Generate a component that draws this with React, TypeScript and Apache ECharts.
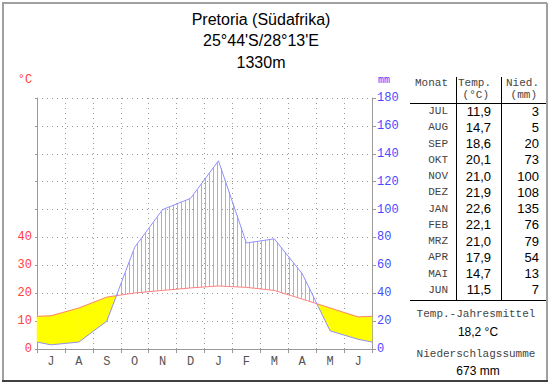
import { useEffect, useRef } from "react";
import * as echarts from "echarts";

const monthLabels = ["J", "A", "S", "O", "N", "D", "J", "F", "M", "A", "M", "J"];
const tableMonths = ["JUL", "AUG", "SEP", "OKT", "NOV", "DEZ", "JAN", "FEB", "MRZ", "APR", "MAI", "JUN"];
const temperature = [11.9, 14.7, 18.6, 20.1, 21.0, 21.9, 22.6, 22.1, 21.0, 17.9, 14.7, 11.5];
const precipitation = [3, 5, 20, 73, 100, 108, 135, 76, 79, 54, 13, 7];
const titleLines = ["Pretoria (Südafrika)", "25°44'S/28°13'E", "1330m"];

const TEMP_MAX = 90;
const PREC_MAX = 180;
const RATIO = PREC_MAX / TEMP_MAX;

const MONO = "'Liberation Mono', 'DejaVu Sans Mono', monospace";
const SANS = "'Liberation Sans', Arial, sans-serif";
const HATCH = "#a8a8ff";

const fmt1 = (v: number) => v.toFixed(1).replace(".", ",");

// points at month centres plus the two edges (mean of Jun/Jul)
const n = temperature.length;
const edgeT = (temperature[0] + temperature[n - 1]) / 2;
const edgeP = (precipitation[0] + precipitation[n - 1]) / 2;
const xs = [0, ...temperature.map((_, i) => i + 0.5), n];
const tSeries = [edgeT, ...temperature, edgeT];
const pSeries = [edgeP, ...precipitation, edgeP];
const tMm = tSeries.map((v) => v * RATIO);

function renderClimate(_params: any, api: any) {
  const kids: any[] = [];
  const originX = api.coord([0, 0])[0];
  const step = 4;
  const lerp = (a: number, b: number, f: number) => a + (b - a) * f;
  const pt = (a: number[], b: number[], f: number) => [lerp(a[0], b[0], f), lerp(a[1], b[1], f)];
  for (let i = 0; i < xs.length - 1; i++) {
    const t0 = api.coord([xs[i], tMm[i]]);
    const t1 = api.coord([xs[i + 1], tMm[i + 1]]);
    const p0 = api.coord([xs[i], pSeries[i]]);
    const p1 = api.coord([xs[i + 1], pSeries[i + 1]]);
    const d0 = pSeries[i] - tMm[i];
    const d1 = pSeries[i + 1] - tMm[i + 1];
    const cuts = [0];
    if (d0 * d1 < 0) cuts.push(d0 / (d0 - d1));
    cuts.push(1);
    for (let k = 0; k < cuts.length - 1; k++) {
      const u = cuts[k];
      const v = cuts[k + 1];
      const dm = lerp(d0, d1, (u + v) / 2);
      const tu = pt(t0, t1, u);
      const tv = pt(t0, t1, v);
      const pu = pt(p0, p1, u);
      const pv = pt(p0, p1, v);
      if (dm < 0) {
        kids.push({
          type: "polygon",
          shape: { points: [tu, tv, pv, pu] },
          style: { fill: "#ffff00", stroke: "#ffff00", lineWidth: 0.5 },
        });
      } else {
        let x = originX + Math.ceil((tu[0] - originX) / step) * step;
        for (; x < tv[0]; x += step) {
          const f = (x - tu[0]) / (tv[0] - tu[0]);
          const top = lerp(pu[1], pv[1], f);
          const bottom = lerp(tu[1], tv[1], f);
          kids.push({
            type: "rect",
            shape: { x: Math.round(x), y: top, width: 1, height: bottom - top },
            style: { fill: HATCH },
          });
        }
      }
    }
  }
  return { type: "group", children: kids };
}

export default function App() {
  const ref = useRef<HTMLDivElement>(null);
  useEffect(() => {
    document.body.style.margin = "0";
    if (!ref.current) return;
    const chart = echarts.init(ref.current, undefined, { renderer: "svg" });

    const graphics: any[] = [];
    // frame
    graphics.push({ type: "line", shape: { x1: 2, y1: 3, x2: 547, y2: 3 }, style: { stroke: "#a0a0a0", lineWidth: 2 } });
    graphics.push({ type: "line", shape: { x1: 3, y1: 3, x2: 3, y2: 381 }, style: { stroke: "#a0a0a0", lineWidth: 2 } });
    graphics.push({ type: "line", shape: { x1: 547, y1: 3, x2: 547, y2: 381 }, style: { stroke: "#a0a0a0", lineWidth: 2 } });
    graphics.push({ type: "line", shape: { x1: 2, y1: 381, x2: 548, y2: 381 }, style: { stroke: "#404040", lineWidth: 2 } });

    titleLines.forEach((t, i) => {
      graphics.push({
        type: "text",
        x: 261,
        y: [19, 40, 62][i],
        style: { text: t, font: `16px ${SANS}`, fill: "#000", textAlign: "center", textVerticalAlign: "middle" },
      });
    });
    graphics.push({
      type: "text", x: 25, y: 80,
      style: { text: "°C", font: `12px ${MONO}`, fill: "#ff4040", textAlign: "center", textVerticalAlign: "middle" },
    });
    graphics.push({
      type: "text", x: 378, y: 80,
      style: { text: "mm", font: `10px ${MONO}`, fill: "#4040ff", textAlign: "left", textVerticalAlign: "middle" },
    });

    // table
    const colM = 448, colT = 491, colN = 539;
    const hdr = (text: string, x: number, y: number) =>
      graphics.push({
        type: "text", x, y,
        style: { text, font: `11px ${MONO}`, fill: "#444", textAlign: "right", textVerticalAlign: "middle" },
      });
    hdr("Monat", colM, 83);
    hdr("Temp.", colT, 83);
    hdr("Nied.", colN, 83);
    hdr("(°C)", colT - 2, 95);
    hdr("(mm)", colN - 2, 95);
    graphics.push({ type: "line", shape: { x1: 410, y1: 103.5, x2: 546, y2: 103.5 }, style: { stroke: "#000", lineWidth: 1 } });
    graphics.push({ type: "line", shape: { x1: 410, y1: 300.5, x2: 546, y2: 300.5 }, style: { stroke: "#000", lineWidth: 1 } });
    graphics.push({ type: "line", shape: { x1: 456.5, y1: 77, x2: 456.5, y2: 300 }, style: { stroke: "#000", lineWidth: 1 } });
    graphics.push({ type: "line", shape: { x1: 501.5, y1: 77, x2: 501.5, y2: 300 }, style: { stroke: "#000", lineWidth: 1 } });
    tableMonths.forEach((m, i) => {
      const y = 111 + i * 16.27;
      hdr(m, colM, y);
      graphics.push({
        type: "text", x: colT, y,
        style: { text: fmt1(temperature[i]), font: `13px ${SANS}`, fill: "#000", textAlign: "right", textVerticalAlign: "middle" },
      });
      graphics.push({
        type: "text", x: colN, y,
        style: { text: String(precipitation[i]), font: `13px ${SANS}`, fill: "#000", textAlign: "right", textVerticalAlign: "middle" },
      });
    });
    const meanT = temperature.reduce((a, b) => a + b, 0) / temperature.length;
    const sumP = precipitation.reduce((a, b) => a + b, 0);
    const foot = (text: string, y: number, mono: boolean) =>
      graphics.push({
        type: "text", x: mono ? 476 : 478, y,
        style: {
          text, font: mono ? `11px ${MONO}` : `12px ${SANS}`, fill: mono ? "#444" : "#000",
          textAlign: "center", textVerticalAlign: "middle",
        },
      });
    foot("Temp.-Jahresmittel", 314, true);
    foot(`${fmt1(meanT)} °C`, 332, false);
    foot("Niederschlagssumme", 354, true);
    foot(`${sumP} mm`, 371, false);

    const dotted = { color: "#999", type: [1, 4] as any, width: 1 };

    chart.setOption({
      animation: false,
      grid: { left: 37, right: 178, top: 98, bottom: 35, containLabel: false },
      xAxis: [
        {
          type: "category",
          data: monthLabels,
          boundaryGap: true,
          position: "bottom",
          axisLine: { lineStyle: { color: "#999" } },
          axisTick: { show: true, length: 4, interval: 0, lineStyle: { color: "#999" } },
          axisLabel: { color: "#555", fontFamily: MONO, fontSize: 12, margin: 7, interval: 0 },
          splitLine: { show: true, interval: 0, lineStyle: dotted },
        },
        { type: "value", min: 0, max: n, show: false },
      ],
      yAxis: [
        {
          type: "value",
          min: 0,
          max: TEMP_MAX,
          interval: 10,
          position: "left",
          axisLine: { show: true, lineStyle: { color: "#999" } },
          axisTick: { show: true, length: 2, lineStyle: { color: "#999" } },
          axisLabel: {
            color: "#ff4040", fontFamily: MONO, fontSize: 12, margin: 5,
            formatter: (v: number) => (v <= 40 ? String(v) : ""),
          },
          splitLine: { show: true, lineStyle: dotted },
        },
        {
          type: "value",
          min: 0,
          max: PREC_MAX,
          interval: 20,
          position: "right",
          axisLine: { show: true, lineStyle: { color: "#999" } },
          axisTick: { show: true, length: 4, lineStyle: { color: "#999" } },
          axisLabel: { color: "#4a4aff", fontFamily: MONO, fontSize: 12, margin: 5 },
          splitLine: { show: false },
        },
      ],
      series: [
        {
          type: "custom",
          coordinateSystem: "cartesian2d",
          xAxisIndex: 1,
          yAxisIndex: 1,
          data: [[0, 0]],
          renderItem: renderClimate,
          silent: true,
          z: 1,
        },
        {
          type: "line",
          xAxisIndex: 1,
          yAxisIndex: 0,
          data: xs.map((x, i) => [x, tSeries[i]]),
          symbol: "none",
          lineStyle: { color: "#ff8080", width: 1 },
          silent: true,
          z: 3,
        },
        {
          type: "line",
          xAxisIndex: 1,
          yAxisIndex: 1,
          data: xs.map((x, i) => [x, pSeries[i]]),
          symbol: "none",
          lineStyle: { color: "#9090ff", width: 1 },
          silent: true,
          z: 3,
        },
      ],
      graphic: graphics,
    });
    return () => chart.dispose();
  }, []);
  return <div ref={ref} style={{ width: 550, height: 384 }} />;
}
